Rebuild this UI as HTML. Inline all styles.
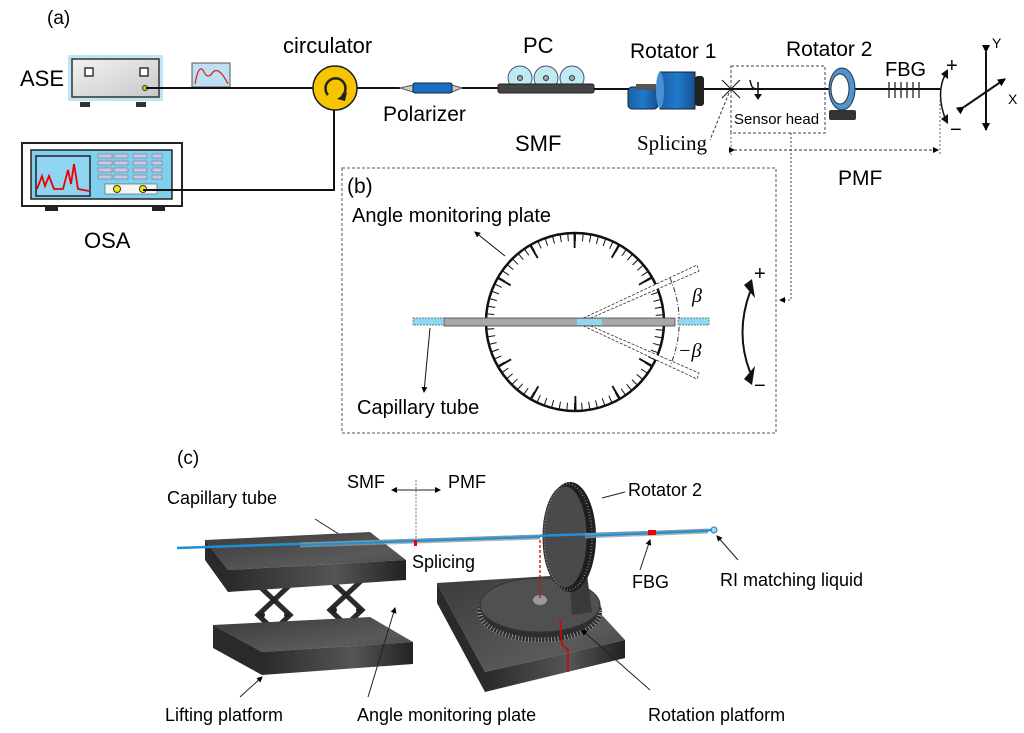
<!DOCTYPE html>
<html><head><meta charset="utf-8"><style>
html,body{margin:0;padding:0;background:#fff;}
svg{display:block;font-family:"Liberation Sans",sans-serif;}
</style></head><body>
<svg width="1024" height="733" viewBox="0 0 1024 733" xmlns="http://www.w3.org/2000/svg">
<defs>
<marker id="ah" markerWidth="8" markerHeight="8" refX="7" refY="4" orient="auto" markerUnits="userSpaceOnUse"><path d="M0,0 L8,4 L0,8 z" fill="#000"/></marker>
<marker id="as" markerWidth="6" markerHeight="6" refX="5" refY="3" orient="auto" markerUnits="userSpaceOnUse"><path d="M0,0 L6,3 L0,6 z" fill="#000"/></marker>
<linearGradient id="gb" x1="0" y1="0" x2="1" y2="0"><stop offset="0" stop-color="#1e5fa8"/><stop offset="0.5" stop-color="#1f7acc"/><stop offset="1" stop-color="#17508f"/></linearGradient>
<linearGradient id="gd" x1="0" y1="0" x2="1" y2="0"><stop offset="0" stop-color="#2a2a2a"/><stop offset="0.6" stop-color="#555"/><stop offset="1" stop-color="#222"/></linearGradient>
<linearGradient id="gt" x1="0" y1="0" x2="1" y2="1"><stop offset="0" stop-color="#3a3a3a"/><stop offset="0.7" stop-color="#5a5a5a"/><stop offset="1" stop-color="#444"/></linearGradient>
<linearGradient id="gs" x1="0" y1="0" x2="1" y2="1"><stop offset="0" stop-color="#f2f2f2"/><stop offset="1" stop-color="#c8c8c8"/></linearGradient>
</defs>

<!-- (a) -->
<text x="47" y="24" font-size="19">(a)</text>
<text x="20" y="86" font-size="22">ASE</text>
<rect x="68" y="55" width="95" height="46" fill="#bfe4f5"/>
<rect x="72" y="59" width="87" height="38" fill="url(#gs)" stroke="#333" stroke-width="1.5"/>
<rect x="85" y="68" width="8" height="8" fill="#fff" stroke="#333" stroke-width="1.5"/>
<rect x="140" y="68" width="8" height="8" fill="#fff" stroke="#333" stroke-width="1.5"/>
<rect x="80" y="102" width="10" height="5" fill="#333"/><rect x="136" y="102" width="10" height="5" fill="#333"/>
<circle cx="145" cy="88" r="2.5" fill="#cc0" stroke="#333"/>
<rect x="192" y="63" width="38" height="24" fill="#bfe0f2" stroke="#555"/>
<path d="M195,84 Q199,62 204,72 Q208,80 213,72 Q219,66 228,84" fill="none" stroke="#d22" stroke-width="1.3"/>
<line x1="146" y1="88" x2="314" y2="88" stroke="#111" stroke-width="2"/>
<text x="283" y="53" font-size="22">circulator</text>
<circle cx="335" cy="88" r="22" fill="#f7c400" stroke="#222" stroke-width="1.5"/>
<path d="M328,95 A10,10 0 1 1 342,96" fill="none" stroke="#222" stroke-width="2.5"/>
<path d="M337,99 L347,92 L345,101 z" fill="#222"/>
<line x1="357" y1="88" x2="400" y2="88" stroke="#111" stroke-width="2"/>
<path d="M400,88 L413,85 L413,92 z M452,85 L462,88 L452,92 z" fill="#ccc" stroke="#555"/>
<rect x="413" y="83" width="39" height="10" rx="2" fill="#1a6fc4" stroke="#123"/>
<line x1="462" y1="88" x2="500" y2="88" stroke="#111" stroke-width="2"/>
<text x="383" y="121" font-size="21">Polarizer</text>
<text x="523" y="53" font-size="22">PC</text>
<g fill="#bfeaf2" stroke="#457"><circle cx="520" cy="78" r="12"/><circle cx="546" cy="78" r="12"/><circle cx="572" cy="78" r="12"/></g>
<g fill="#9ab" stroke="#333"><circle cx="520" cy="78" r="2.5"/><circle cx="546" cy="78" r="2.5"/><circle cx="572" cy="78" r="2.5"/></g>
<rect x="498" y="84" width="96" height="9" rx="2" fill="#444" stroke="#222"/>
<text x="515" y="151" font-size="22">SMF</text>
<line x1="594" y1="89" x2="730" y2="89" stroke="#111" stroke-width="2"/>
<text x="630" y="58" font-size="21">Rotator 1</text>
<rect x="628" y="87" width="30" height="22" rx="4" fill="url(#gb)" stroke="#123"/>
<rect x="636" y="84" width="20" height="6" fill="#555"/>
<rect x="660" y="72" width="35" height="37" fill="url(#gb)" stroke="#123"/>
<ellipse cx="660" cy="90" rx="4" ry="18" fill="#4a90d4"/>
<rect x="695" y="76" width="9" height="30" rx="3" fill="#222"/>
<g stroke="#111" stroke-width="1"><line x1="722" y1="80" x2="740" y2="98"/><line x1="740" y1="80" x2="722" y2="98"/></g>
<line x1="729" y1="93" x2="710" y2="140" stroke="#333" stroke-dasharray="3,2"/>
<text x="637" y="150" font-size="21" font-family="Liberation Serif,serif">Splicing</text>
<rect x="731" y="66" width="94" height="67" fill="none" stroke="#444" stroke-dasharray="3,2"/>
<path d="M750,80 Q752,90 755,88" fill="none" stroke="#111" stroke-width="1.5"/>
<path d="M758,82 L758,96" stroke="#111" stroke-width="1.5"/><path d="M754,94 L758,100 L762,94 z" fill="#111"/>
<text x="734" y="124" font-size="15">Sensor head</text>
<text x="786" y="56" font-size="21">Rotator 2</text>
<line x1="730" y1="89" x2="940" y2="89" stroke="#111" stroke-width="2"/>
<ellipse cx="842" cy="89" rx="13" ry="21" fill="#4f93cf" stroke="#235"/>
<ellipse cx="840" cy="89" rx="9" ry="15" fill="#fff" stroke="#333"/>
<rect x="829" y="110" width="27" height="10" rx="2" fill="#333"/>
<text x="885" y="76" font-size="20">FBG</text>
<g stroke="#222" stroke-width="1.3"><line x1="889" y1="82" x2="889" y2="98"/><line x1="895" y1="82" x2="895" y2="98"/><line x1="901" y1="82" x2="901" y2="98"/><line x1="907" y1="82" x2="907" y2="98"/><line x1="913" y1="82" x2="913" y2="98"/><line x1="919" y1="82" x2="919" y2="98"/></g>
<path d="M945,75 Q936,93 945,118" fill="none" stroke="#111" stroke-width="1.5"/>
<path d="M941,74 L948,69 L948,79 z M941,119 L948,124 L948,114 z" fill="#111"/>
<text x="946" y="72" font-size="20">+</text>
<text x="950" y="136" font-size="20">−</text>
<line x1="986" y1="52" x2="986" y2="130" stroke="#111" stroke-width="2" marker-start="url(#ah)" marker-end="url(#ah)"/>
<line x1="964" y1="107" x2="1005" y2="79" stroke="#111" stroke-width="2" marker-start="url(#ah)" marker-end="url(#ah)"/>
<text x="992" y="48" font-size="14">Y</text>
<text x="1008" y="104" font-size="14">X</text>
<line x1="731" y1="133" x2="731" y2="155" stroke="#666" stroke-dasharray="2,2"/>
<line x1="940" y1="100" x2="940" y2="155" stroke="#666" stroke-dasharray="2,2"/>
<line x1="734" y1="150" x2="938" y2="150" stroke="#333" stroke-dasharray="3,2" marker-start="url(#as)" marker-end="url(#as)"/>
<text x="838" y="185" font-size="21">PMF</text>
<polyline points="791,133 791,300 780,300" fill="none" stroke="#444" stroke-dasharray="2,2" marker-end="url(#as)"/>

<rect x="22" y="143" width="160" height="63" fill="#fff" stroke="#222" stroke-width="2"/>
<rect x="31" y="150" width="141" height="49" fill="#7fd0ee" stroke="#222" stroke-width="1.5"/>
<rect x="36" y="156" width="54" height="40" fill="#8fd4f0" stroke="#222" stroke-width="1.5"/>
<path d="M37,189 L42,176 L45,186 L49,176 L54,189 L63,189 L68,170 L71,184 L74,164 L78,189 L89,191" fill="none" stroke="#e00" stroke-width="1.8"/>
<g fill="#c8c8e6" stroke="#667" stroke-width=".5">
<rect x="98" y="154" width="14" height="4"/><rect x="114" y="154" width="14" height="4"/><rect x="133" y="154" width="14" height="4"/><rect x="152" y="154" width="10" height="4"/>
<rect x="98" y="161" width="14" height="4"/><rect x="114" y="161" width="14" height="4"/><rect x="133" y="161" width="14" height="4"/><rect x="152" y="161" width="10" height="4"/>
<rect x="98" y="168" width="14" height="4"/><rect x="114" y="168" width="14" height="4"/><rect x="133" y="168" width="14" height="4"/><rect x="152" y="168" width="10" height="4"/>
<rect x="98" y="175" width="14" height="4"/><rect x="114" y="175" width="14" height="4"/><rect x="133" y="175" width="14" height="4"/><rect x="152" y="175" width="10" height="4"/>
</g>
<rect x="105" y="184" width="52" height="10" fill="#f4f4f4" stroke="#555" stroke-width=".6"/>
<circle cx="117" cy="189" r="3.5" fill="#ee0" stroke="#333"/><circle cx="143" cy="189" r="3.5" fill="#ee0" stroke="#333"/>
<rect x="45" y="206" width="13" height="5" fill="#222"/><rect x="152" y="206" width="13" height="5" fill="#222"/>
<text x="84" y="248" font-size="22">OSA</text>
<polyline points="143,190 334,190 334,110" fill="none" stroke="#111" stroke-width="2"/>

<!-- (b) -->
<rect x="342" y="168" width="434" height="265" fill="none" stroke="#555" stroke-dasharray="3,2"/>
<text x="347" y="193" font-size="21">(b)</text>
<text x="352" y="222" font-size="20">Angle monitoring plate</text>
<line x1="505" y1="256" x2="475" y2="232" stroke="#111" marker-end="url(#as)"/>
<circle cx="575" cy="322" r="89" fill="#fff" stroke="#111" stroke-width="2.5"/>
<circle cx="575" cy="322" r="84.5" fill="none" stroke="#111" stroke-width="7" stroke-dasharray="1 6.37"/>
<circle cx="575" cy="322" r="81" fill="none" stroke="#111" stroke-width="14" stroke-dasharray="2 40.4" transform="rotate(-1 575 322)"/>
<g stroke="#333" stroke-width="0.8" stroke-dasharray="3,1.5" fill="#fff">
<path d="M575,322 L697,265 L699,271 L577,324"/><path d="M575,322 L697,379 L699,373 L577,320"/>
</g>
<path d="M670,278 A110,110 0 0 1 670,366" fill="none" stroke="#333" stroke-dasharray="5,2,1,2"/>
<rect x="444" y="318" width="231" height="8" fill="#a8a8a8" stroke="#444" stroke-width=".8"/>
<rect x="577" y="319" width="25" height="6" fill="#8fd8f4"/>
<rect x="413" y="318" width="31" height="7" fill="#8fd8f4" stroke="#555" stroke-width=".7" stroke-dasharray="2,1"/>
<rect x="678" y="318" width="31" height="7" fill="#8fd8f4" stroke="#555" stroke-width=".7" stroke-dasharray="2,1"/>
<text x="692" y="302" font-size="20" font-style="italic" font-family="Liberation Serif,serif">β</text>
<text x="678" y="357" font-size="20" font-style="italic" font-family="Liberation Serif,serif">−β</text>
<path d="M750,292 Q735,333 750,372" fill="none" stroke="#111" stroke-width="2"/>
<path d="M744,285 L752,279 L755,298 z M744,379 L752,385 L755,366 z" fill="#111"/>
<text x="754" y="280" font-size="20">+</text>
<text x="754" y="392" font-size="20">−</text>
<line x1="430" y1="328" x2="424" y2="392" stroke="#111" marker-end="url(#as)"/>
<text x="357" y="414" font-size="20">Capillary tube</text>

<!-- (c) -->
<text x="177" y="464" font-size="19">(c)</text>
<text x="347" y="488" font-size="18">SMF</text>
<text x="448" y="488" font-size="18">PMF</text>
<line x1="416" y1="490" x2="392" y2="490" stroke="#222" marker-end="url(#as)"/>
<line x1="416" y1="490" x2="440" y2="490" stroke="#222" marker-end="url(#as)"/>
<line x1="416" y1="480" x2="416" y2="545" stroke="#777" stroke-dasharray="2,1.5"/>
<text x="167" y="504" font-size="18">Capillary tube</text>
<line x1="315" y1="519" x2="345" y2="538" stroke="#222" marker-end="url(#as)"/>

<!-- lifting platform -->
<g stroke="#2b2b2b" stroke-width="5" fill="none">
<path d="M258,585 L290,615 L258,645 M290,585 L258,615 L290,645"/>
<path d="M330,580 L362,610 L330,640 M362,580 L330,610 L362,640"/>
</g>
<g fill="#222"><circle cx="274" cy="600" r="3"/><circle cx="274" cy="630" r="3"/><circle cx="346" cy="595" r="3"/><circle cx="346" cy="625" r="3"/><circle cx="262" cy="615" r="3"/><circle cx="287" cy="615" r="3"/><circle cx="334" cy="610" r="3"/><circle cx="359" cy="610" r="3"/></g>
<path d="M205,540 L370,532 L406,560 L228,570 z" fill="url(#gt)"/>
<path d="M228,570 L406,560 L406,580 L228,592 z" fill="url(#gd)"/>
<path d="M205,540 L228,570 L228,592 L205,560 z" fill="#2a2a2a"/>
<path d="M213,625 L370,617 L413,642 L262,652 z" fill="url(#gt)"/>
<path d="M262,652 L413,642 L413,664 L262,675 z" fill="url(#gd)"/>
<path d="M213,625 L262,652 L262,675 L213,648 z" fill="#2a2a2a"/>

<!-- rotation platform -->
<path d="M437,583 L565,575 L625,640 L485,672 z" fill="url(#gt)"/>
<path d="M485,672 L625,640 L625,658 L485,692 z" fill="url(#gd)"/>
<path d="M437,583 L485,672 L485,692 L437,603 z" fill="#2a2a2a"/>
<ellipse cx="540" cy="612" rx="62" ry="30" fill="#2e2e2e"/>
<ellipse cx="540" cy="612" rx="60" ry="28" fill="none" stroke="#aaa" stroke-width="5" stroke-dasharray="0.8 2.5"/>
<ellipse cx="540" cy="605" rx="60" ry="27" fill="#505050" stroke="#333"/>
<ellipse cx="540" cy="600" rx="7" ry="5" fill="#999"/>
<path d="M560,620 L562,645 L568,650 L568,672" fill="none" stroke="#d00" stroke-width="1.5"/>
<path d="M568,560 L585,560 L592,612 L572,615 z" fill="#3a3a3a"/>
<ellipse cx="570" cy="537" rx="26" ry="55" fill="#1e1e1e"/>
<ellipse cx="565" cy="537" rx="22" ry="51" fill="#4a4a4a" stroke="#222"/>
<ellipse cx="568" cy="537" rx="24" ry="53" fill="none" stroke="#888" stroke-width="2" stroke-dasharray="0.7 2.3"/>
<line x1="540" y1="540" x2="540" y2="598" stroke="#d00" stroke-dasharray="3,2" stroke-width="1.3"/>

<!-- fiber -->
<line x1="177" y1="548" x2="712" y2="530" stroke="#1e90d8" stroke-width="2.5"/>
<line x1="300" y1="545" x2="540" y2="537" stroke="#999" stroke-width="5" opacity=".75"/>
<line x1="585" y1="536" x2="708" y2="531" stroke="#999" stroke-width="5" opacity=".75"/>
<line x1="300" y1="545" x2="540" y2="537" stroke="#1e90d8" stroke-width="2"/>
<line x1="585" y1="536" x2="708" y2="531" stroke="#1e90d8" stroke-width="2"/>
<rect x="414" y="540" width="3" height="6" fill="#e00"/>
<rect x="648" y="530" width="8" height="5" fill="#e00"/>
<circle cx="714" cy="530" r="3" fill="#9de" stroke="#1e78c0"/>
<text x="412" y="568" font-size="18">Splicing</text>
<text x="628" y="496" font-size="18">Rotator 2</text>
<line x1="625" y1="492" x2="602" y2="498" stroke="#222"/>
<text x="632" y="588" font-size="18">FBG</text>
<line x1="640" y1="570" x2="650" y2="540" stroke="#222" marker-end="url(#as)"/>
<text x="720" y="586" font-size="18">RI matching liquid</text>
<line x1="738" y1="560" x2="717" y2="536" stroke="#222" marker-end="url(#as)"/>
<line x1="240" y1="697" x2="262" y2="677" stroke="#222" marker-end="url(#as)"/>
<text x="165" y="721" font-size="18">Lifting platform</text>
<line x1="368" y1="697" x2="395" y2="608" stroke="#222" marker-end="url(#as)"/>
<text x="357" y="721" font-size="18">Angle monitoring plate</text>
<line x1="650" y1="690" x2="582" y2="630" stroke="#222" marker-end="url(#as)"/>
<text x="648" y="721" font-size="18">Rotation platform</text>
</svg>
</body></html>
